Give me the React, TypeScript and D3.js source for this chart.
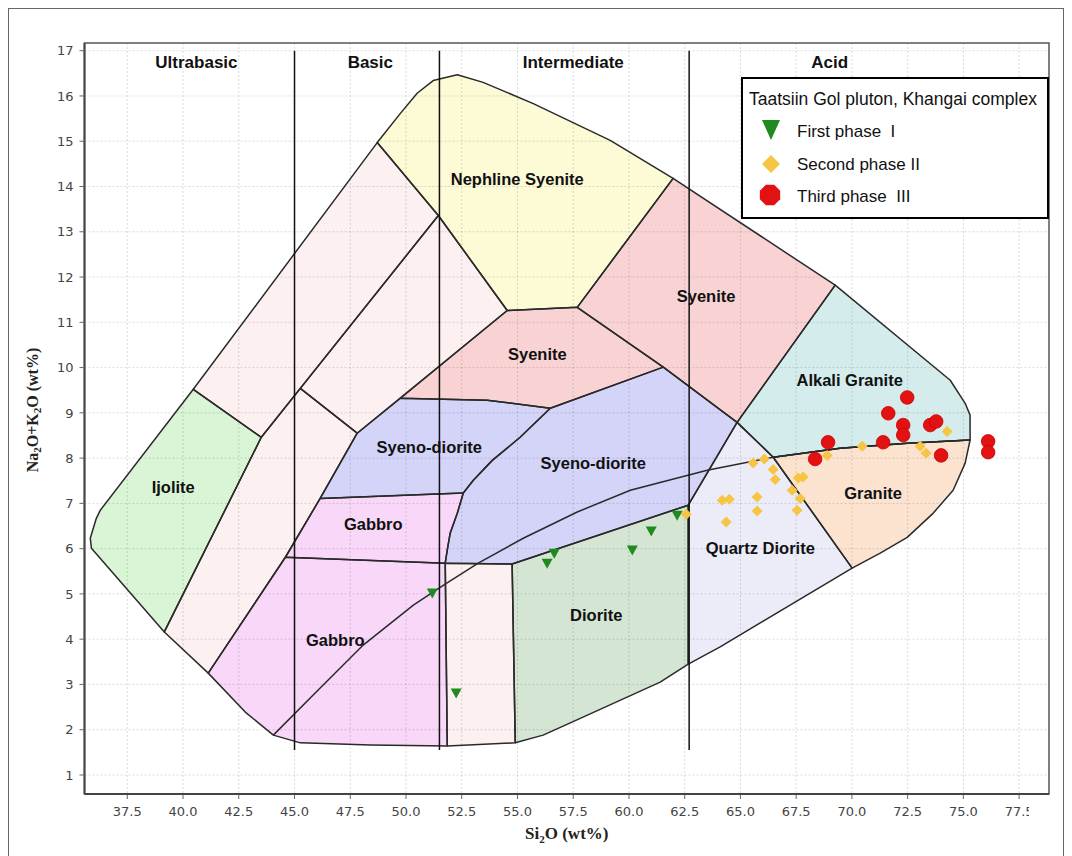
import React from "react";
import * as d3 from "d3";

type P = [number, number];

const xTicks = [37.5, 40, 42.5, 45, 47.5, 50, 52.5, 55, 57.5, 60, 62.5, 65, 67.5, 70, 72.5, 75, 77.5];
const yTicks = [1, 2, 3, 4, 5, 6, 7, 8, 9, 10, 11, 12, 13, 14, 15, 16, 17];

const classBounds = [45, 51.5, 62.7];
const classNames = ["Ultrabasic", "Basic", "Intermediate", "Acid"];
const classLabelX = [40.6, 48.4, 57.5, 69.0];

// Field polygons (SiO2, Na2O+K2O)
const outerBand: P[] = [[40.46, 9.52], [48.71, 14.97], [51.45, 13.36], [43.51, 8.46]];
const innerBand: P[] = [[45.26, 9.54], [51.45, 13.36], [54.54, 11.26], [47.81, 8.55]];
const lowerLeftBand: P[] = [[43.51, 8.46], [45.26, 9.54], [47.81, 8.55], [46.15, 7.11], [44.59, 5.81], [41.13, 3.25], [39.16, 4.16]];
const ijolite: P[] = [[40.46, 9.52], [43.51, 8.46], [39.16, 4.16], [35.89, 6.01], [35.84, 6.23], [36.11, 6.67], [36.29, 6.85]];
const nephSyenite: P[] = [[48.71, 14.97], [49.74, 15.61], [50.5, 16.06], [51.22, 16.34], [52.3, 16.47], [53.46, 16.3], [55.71, 15.83], [59.16, 15.02], [61.98, 14.18], [57.68, 11.33], [54.54, 11.26], [51.45, 13.36]];
const syeniteCenter: P[] = [[54.54, 11.26], [57.68, 11.33], [61.54, 10.01], [56.47, 9.1], [53.64, 9.28], [49.74, 9.32]];
const syenoDioriteLeft: P[] = [[47.81, 8.55], [49.74, 9.32], [53.64, 9.28], [56.47, 9.1], [55.12, 8.46], [53.87, 7.95], [53.02, 7.51], [52.57, 7.23], [46.15, 7.11]];
const gabbroUpper: P[] = [[46.15, 7.11], [52.57, 7.23], [52.3, 6.78], [51.98, 6.34], [51.85, 5.97], [51.76, 5.68], [44.59, 5.81]];
const gabbroLower: P[] = [[44.59, 5.81], [51.76, 5.68], [51.85, 1.64], [48.4, 1.66], [45.26, 1.71], [44.05, 1.88], [42.79, 2.39], [41.13, 3.25]];
const palePinkMid: P[] = [[51.76, 5.68], [54.76, 5.66], [54.9, 1.71], [51.85, 1.64]];
const syenoDioriteRight: P[] = [[56.47, 9.1], [61.54, 10.01], [64.85, 8.79], [62.66, 6.96], [54.76, 5.66], [51.76, 5.68], [51.85, 5.97], [51.98, 6.34], [52.3, 6.78], [52.57, 7.23], [53.02, 7.51], [53.87, 7.95], [55.12, 8.46]];
const diorite: P[] = [[54.76, 5.66], [62.66, 6.96], [62.66, 3.45], [61.4, 3.05], [57.37, 2.15], [56.15, 1.88], [54.9, 1.71]];
const quartzDiorite: P[] = [[64.85, 8.79], [66.47, 8.02], [70.01, 5.57], [64.09, 3.83], [62.66, 3.45], [62.66, 6.96]];
const syeniteRight: P[] = [[57.68, 11.33], [61.98, 14.18], [69.25, 11.82], [64.85, 8.79], [61.54, 10.01]];
const alkaliGranite: P[] = [[69.25, 11.82], [74.41, 9.72], [75.08, 9.21], [75.3, 8.95], [75.3, 8.4], [72.48, 8.33], [69.47, 8.22], [66.47, 8.02], [64.85, 8.79]];
const granite: P[] = [[66.47, 8.02], [69.47, 8.22], [72.48, 8.33], [75.3, 8.4], [75.08, 7.89], [74.54, 7.29], [73.64, 6.78], [72.48, 6.25], [71.27, 5.9], [70.01, 5.57]];

const alkalineDivider: P[] = [[44.05, 1.88], [46.15, 2.92], [48.08, 3.87], [50.33, 4.75], [51.67, 5.19], [53.24, 5.68], [55.26, 6.23], [57.68, 6.81], [60.06, 7.29], [63.51, 7.73], [66.47, 8.02], [69.47, 8.22], [72.48, 8.33], [75.3, 8.4]];

const fields: { pts: P[]; fill: string }[] = [
  { pts: outerBand, fill: "#fcf0f1" },
  { pts: innerBand, fill: "#fcf0f1" },
  { pts: lowerLeftBand, fill: "#fcf0f1" },
  { pts: ijolite, fill: "#d9f5d5" },
  { pts: nephSyenite, fill: "#fcfbd5" },
  { pts: syeniteCenter, fill: "#f9d3d4" },
  { pts: syenoDioriteLeft, fill: "#d3d4f8" },
  { pts: gabbroUpper, fill: "#f8d7f8" },
  { pts: gabbroLower, fill: "#f8d7f8" },
  { pts: palePinkMid, fill: "#fcf0f1" },
  { pts: syenoDioriteRight, fill: "#d3d4f8" },
  { pts: diorite, fill: "#d4e5d3" },
  { pts: quartzDiorite, fill: "#ececf9" },
  { pts: syeniteRight, fill: "#f9d3d4" },
  { pts: alkaliGranite, fill: "#d5ecec" },
  { pts: granite, fill: "#fbe3d0" },
];

const regionNames = ["Nephline Syenite", "Syenite", "Syenite", "Alkali Granite", "Syeno-diorite", "Syeno-diorite", "Ijolite", "Gabbro", "Granite", "Quartz Diorite", "Gabbro", "Diorite"];
const regionX = [54.99, 63.46, 55.89, 69.9, 51.04, 58.4, 39.56, 48.53, 70.95, 65.89, 46.83, 58.53];
const regionY = [14.16, 11.57, 10.29, 9.72, 8.24, 7.89, 7.36, 6.54, 7.23, 6.01, 3.98, 4.53];

const firstPhase: P[] = [[51.18, 5.02], [52.25, 2.81], [56.33, 5.68], [56.65, 5.9], [60.15, 5.97], [61.0, 6.39], [62.16, 6.74]];
const secondPhase: P[] = [[62.57, 6.76], [64.18, 7.07], [64.5, 7.09], [64.36, 6.59], [65.57, 7.89], [66.07, 7.98], [66.47, 7.75], [66.56, 7.53], [65.75, 7.14], [65.75, 6.83], [67.32, 7.29], [67.68, 7.11], [67.59, 7.56], [67.81, 7.58], [67.54, 6.85], [68.89, 8.06], [70.46, 8.26], [73.06, 8.26], [73.33, 8.11], [74.27, 8.59]];
const thirdPhase: P[] = [[72.48, 9.34], [71.63, 8.99], [72.3, 8.73], [72.3, 8.51], [73.51, 8.73], [73.78, 8.81], [71.4, 8.35], [68.93, 8.35], [68.35, 7.98], [74.0, 8.06], [76.11, 8.37], [76.11, 8.13]];

const legendTitle = "Taatsiin Gol pluton, Khangai complex";
const legendLabels = ["First phase  I", "Second phase II", "Third phase  III"];

const GREEN = "#1f8a1f";
const YELLOW = "#f6c544";
const RED = "#e31212";

const octagon = (r: number) =>
  d3.range(8).map((i) => {
    const a = (Math.PI / 8) + (i * Math.PI) / 4;
    return [r * Math.cos(a), r * Math.sin(a)].join(",");
  }).join(" ");

export default function App() {
  const L = 84.5, R = 1049, T = 43, B = 794;
  const x = d3.scaleLinear().domain([35.58, 78.84]).range([L, R]);
  const y = d3.scaleLinear().domain([0.58, 17.17]).range([B, T]);
  const line = d3.line<P>().x((d) => x(d[0])).y((d) => y(d[1]));
  const poly = (pts: P[]) => (line(pts) || "") + "Z";

  const tickFont = "'DejaVu Sans', Verdana, sans-serif";
  const boldFont = "Arial, 'Liberation Sans', sans-serif";

  return (
    <svg width={1072} height={856} style={{ position: "absolute", left: 0, top: 0, background: "#fff" }}>
      <defs>
        <clipPath id="xlabclip">
          <rect x={0} y={795} width={1029} height={40} />
        </clipPath>
      </defs>
      <rect x={0} y={0} width={1072} height={856} fill="#fff" />
      <rect x={8.5} y={8.5} width={1055} height={870} fill="none" stroke="#666" strokeWidth={1} />
      <rect x={L} y={T} width={R - L} height={B - T} fill="#fff" />

      {/* fills */}
      {fields.map((f, i) => (
        <path key={"f" + i} d={poly(f.pts)} fill={f.fill} stroke="none" />
      ))}

      {/* grid */}
      {xTicks.map((t) => (
        <line key={"gx" + t} x1={x(t)} x2={x(t)} y1={T} y2={B} stroke="rgba(0,0,0,0.14)" strokeDasharray="2,2" />
      ))}
      {yTicks.map((t) => (
        <line key={"gy" + t} x1={L} x2={R} y1={y(t)} y2={y(t)} stroke="rgba(0,0,0,0.14)" strokeDasharray="2,2" />
      ))}

      {/* outlines */}
      {fields.map((f, i) => (
        <path key={"o" + i} d={poly(f.pts)} fill="none" stroke="#2a2a2a" strokeWidth={1.5} strokeLinejoin="round" />
      ))}
      <path d={line(alkalineDivider) || ""} fill="none" stroke="#2a2a2a" strokeWidth={1.5} />

      {/* class division lines */}
      {classBounds.map((b) => (
        <line key={"cb" + b} x1={x(b)} x2={x(b)} y1={y(17)} y2={y(1.55)} stroke="#111" strokeWidth={1.5} />
      ))}
      {classNames.map((n, i) => (
        <text key={"cn" + i} x={x(classLabelX[i])} y={68} textAnchor="middle" fontFamily={boldFont} fontWeight="bold" fontSize={17} fill="#111">
          {n}
        </text>
      ))}

      {/* region labels */}
      {regionNames.map((n, i) => (
        <text key={"rn" + i} x={x(regionX[i])} y={y(regionY[i])} dy="0.35em" textAnchor="middle" fontFamily={boldFont} fontWeight="bold" fontSize={16.5} fill="#111">
          {n}
        </text>
      ))}

      {/* data points */}
      {secondPhase.map((d, i) => (
        <path key={"s" + i} transform={`translate(${x(d[0])},${y(d[1])})`} d="M0,-5.5L5.5,0L0,5.5L-5.5,0Z" fill={YELLOW} />
      ))}
      {firstPhase.map((d, i) => (
        <path key={"p" + i} transform={`translate(${x(d[0])},${y(d[1])})`} d="M-5.5,-4.5L5.5,-4.5L0,5.5Z" fill={GREEN} />
      ))}
      {thirdPhase.map((d, i) => (
        <circle key={"t" + i} cx={x(d[0])} cy={y(d[1])} r={6.8} fill={RED} stroke="#c00" strokeWidth={0.8} />
      ))}

      {/* plot frame and axes */}
      <rect x={L} y={T} width={R - L} height={B - T} fill="none" stroke="#555" strokeWidth={1.5} />
      <line x1={L} x2={L} y1={T} y2={B} stroke="#444" strokeWidth={2} />
      <line x1={L} x2={R} y1={B} y2={B} stroke="#444" strokeWidth={2} />
      {yTicks.map((t) => (
        <g key={"yt" + t}>
          <line x1={L - 5} x2={L} y1={y(t)} y2={y(t)} stroke="#666" />
          <text x={L - 11} y={y(t)} dy="0.36em" textAnchor="end" fontFamily={tickFont} fontSize={13} fill="#444">
            {t}
          </text>
        </g>
      ))}
      <g clipPath="url(#xlabclip)">
        {xTicks.map((t) => (
          <g key={"xt" + t}>
            <line x1={x(t)} x2={x(t)} y1={B} y2={B + 5} stroke="#666" />
            <text x={x(t)} y={816} textAnchor="middle" fontFamily={tickFont} fontSize={13} fill="#444">
              {d3.format(".1f")(t)}
            </text>
          </g>
        ))}
      </g>

      {/* axis titles */}
      <text x={(L + R) / 2} y={839} textAnchor="middle" fontFamily="'Liberation Serif', 'Times New Roman', serif" fontWeight="bold" fontSize={17} fill="#222">
        Si<tspan fontSize={11} dy={4}>2</tspan>
        <tspan dy={-4}>O (wt%)</tspan>
      </text>
      <text transform={`translate(38,410) rotate(-90)`} textAnchor="middle" fontFamily="'Liberation Serif', 'Times New Roman', serif" fontWeight="bold" fontSize={16} fill="#222">
        Na<tspan fontSize={11} dy={3}>2</tspan>
        <tspan dy={-3}>O+K</tspan>
        <tspan fontSize={11} dy={3}>2</tspan>
        <tspan dy={-3}>O (wt%)</tspan>
      </text>

      {/* legend */}
      <rect x={742} y={78} width={306} height={140} fill="#fff" stroke="#000" strokeWidth={2} />
      <text x={749} y={105} fontFamily="'Liberation Sans', Arial, sans-serif" fontSize={17.5} fill="#111">
        {legendTitle}
      </text>
      <path transform="translate(771,129)" d="M-9,-9L9,-9L0,11Z" fill={GREEN} />
      <path transform="translate(771,164)" d="M0,-9L9,0L0,9L-9,0Z" fill={YELLOW} />
      <polygon transform="translate(770,195)" points={octagon(11)} fill={RED} />
      {legendLabels.map((l, i) => (
        <text key={"ll" + i} x={797} y={137 + i * 32.5} fontFamily="'Liberation Sans', Arial, sans-serif" fontSize={17} fill="#111" style={{ whiteSpace: "pre" }}>
          {l}
        </text>
      ))}
    </svg>
  );
}
